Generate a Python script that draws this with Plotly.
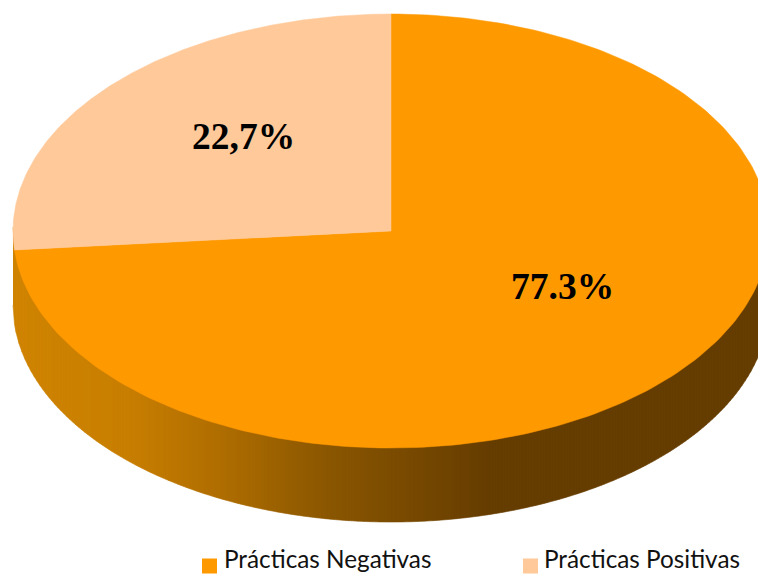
import numpy as np
import plotly.graph_objects as go

categories = ["Prácticas Negativas", "Prácticas Positivas"]
values = [77.3, 22.7]
value_labels = ["77.3%", "22,7%"]
slice_colors = ["#FF9900", "#FFC999"]

W, H = 758, 574
CX, CY, RX, RY, DEPTH = 391.0, 231.0, 378.0, 217.0, 74.0
# The source's 3D perspective compresses the sweep of the first slice
SWEEP_SCALE = 265.0 / 278.3

label_pos = [(562, 286), (243, 136)]
legend_pos = [(209.5, 566, 222, 558), (530.5, 566, 542, 558)]

grad_x = [13, 130, 220, 330, 490, 760]
grad_r = [208, 200, 176, 138, 102, 102]
grad_g = [132, 126, 110, 86, 61, 61]
grad_b = [0, 0, 0, 0, 0, 0]

fig = go.Figure()

# side wall: vertical strips following the lower rim of the ellipse
edges = np.arange(CX - RX, CX + RX + 3, 3.0)
edges = np.clip(edges, CX - RX, CX + RX)
def rim(x):
    return CY + RY * np.sqrt(np.clip(1 - ((x - CX) / RX) ** 2, 0, 1))
for a, b in zip(edges[:-1], edges[1:]):
    if b <= a or a > W:
        continue
    xs = np.linspace(a, b, 3)
    ytop = rim(xs)
    ybot = ytop + DEPTH
    m = (a + b) / 2
    col = "rgb(%d,%d,%d)" % (np.interp(m, grad_x, grad_r), np.interp(m, grad_x, grad_g), np.interp(m, grad_x, grad_b))
    fig.add_trace(go.Scatter(
        x=np.r_[xs, xs[::-1]], y=np.r_[ytop - 4, ybot[::-1]],
        mode="lines", fill="toself", fillcolor=col,
        line=dict(color=col, width=0.6), hoverinfo="skip", showlegend=False))

# top face: slices clockwise from twelve o'clock
total = sum(values)
start = 0.0
first = values[0] / total * 360 * SWEEP_SCALE
sweeps = [first, 360 - first]
for name, col, sw in zip(categories, slice_colors, sweeps):
    th = np.radians(np.linspace(start, start + sw, 240))
    xs = np.r_[CX, CX + RX * np.sin(th), CX]
    ys = np.r_[CY, CY - RY * np.cos(th), CY]
    fig.add_trace(go.Scatter(
        x=xs, y=ys, mode="lines", fill="toself", fillcolor=col,
        line=dict(color=col, width=0.5), name=name, hoverinfo="name", showlegend=False))
    start += sw

# legend swatches and labels
for name, col, (mx, my, tx, ty) in zip(categories, slice_colors, legend_pos):
    fig.add_trace(go.Scatter(
        x=[mx], y=[my], mode="markers", cliponaxis=False,
        marker=dict(symbol="square", size=15, color=col, line=dict(width=0)),
        hoverinfo="skip", showlegend=False))
    fig.add_annotation(x=tx, y=ty, text=name, showarrow=False, xanchor="left", yanchor="middle",
                       font=dict(family="Lato", size=24.3, color="#111111"))

for txt, (lx, ly) in zip(value_labels, label_pos):
    fig.add_annotation(x=lx, y=ly, text="<b>%s</b>" % txt, showarrow=False, xanchor="center", yanchor="middle",
                       font=dict(family="Liberation Serif", size=37.5, color="black"))

fig.update_layout(
    width=W, height=H, margin=dict(l=0, r=0, t=0, b=0),
    paper_bgcolor="white", plot_bgcolor="white", showlegend=False,
    xaxis=dict(range=[0, W], visible=False, fixedrange=True),
    yaxis=dict(range=[H, 0], visible=False, fixedrange=True),
)
fig.write_html("out.html", config={"displayModeBar": False},
               post_script="document.body.style.margin='0';document.documentElement.style.overflow='hidden';")
